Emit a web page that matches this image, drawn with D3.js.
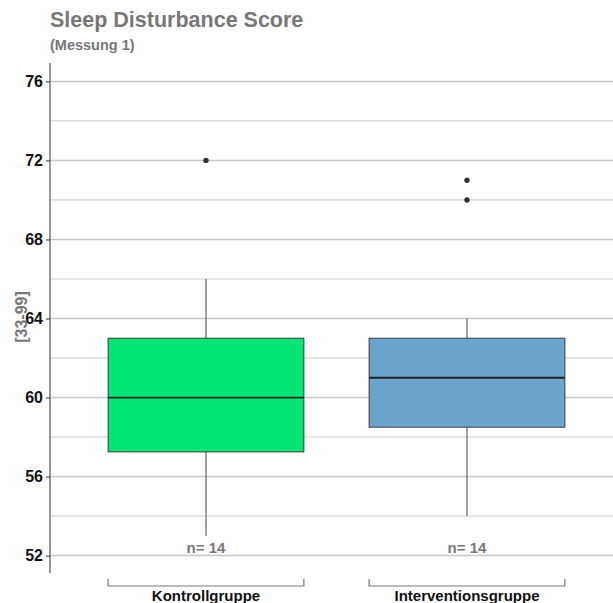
<!DOCTYPE html>
<html>
<head>
<meta charset="utf-8">
<script src="https://cdn.jsdelivr.net/npm/d3@7"></script>
<style>
  body { margin: 0; background: #fff; }
  text { font-family: "Liberation Sans", Arial, sans-serif; font-weight: bold; }
</style>
</head>
<body>
<div id="chart"></div>
<script>
// values
const groups = ["Kontrollgruppe", "Interventionsgruppe"];
const q1 = [57.25, 58.5];
const medians = [60, 61];
const q3 = [63, 63];
const whiskerLow = [53, 54];
const whiskerHigh = [66, 64];
const outliers = [[72], [71, 70]];
const counts = [14, 14];
const fills = ["#00e676", "#6ba5ce"];
const majorTicks = [52, 56, 60, 64, 68, 72, 76];
const minorTicks = [54, 58, 62, 66, 70, 74];

const width = 613, height = 603;

const svg = d3.select("#chart")
  .append("svg")
  .attr("width", width)
  .attr("height", height);

// scales
const y = d3.scaleLinear().domain([51.12, 76.93]).range([573, 63]);
const x = d3.scaleLinear().domain([0.4, 2.6]).range([49.4, 623.6]);
const boxW = x(1.75) - x(1);

// grid
svg.append("g").selectAll("line")
  .data(minorTicks)
  .enter().append("line")
  .attr("x1", 50).attr("x2", width)
  .attr("y1", d => y(d)).attr("y2", d => y(d))
  .attr("stroke", "#cccccc").attr("stroke-width", 1);

svg.append("g").selectAll("line")
  .data(majorTicks)
  .enter().append("line")
  .attr("x1", 50).attr("x2", width)
  .attr("y1", d => y(d)).attr("y2", d => y(d))
  .attr("stroke", "#c8c8c8").attr("stroke-width", 1.5);

// y axis
const yAxis = svg.append("g")
  .attr("transform", "translate(50,0)")
  .call(d3.axisLeft(y).tickValues(majorTicks).tickSize(4).tickPadding(3));
yAxis.select(".domain").attr("stroke", "#333").attr("d", "M0," + 63 + "V" + 573);
yAxis.selectAll(".tick line").attr("stroke", "#333");
yAxis.selectAll(".tick text")
  .attr("fill", "#111")
  .style("font-size", "16px")
  .style("font-family", "'Liberation Sans', Arial, sans-serif")
  .style("font-weight", "bold");

// boxes
const boxes = svg.append("g").selectAll("g")
  .data(groups)
  .enter().append("g");

boxes.append("line")
  .attr("x1", (d, i) => x(i + 1)).attr("x2", (d, i) => x(i + 1))
  .attr("y1", (d, i) => y(q3[i])).attr("y2", (d, i) => y(whiskerHigh[i]))
  .attr("stroke", "#444").attr("stroke-width", 1);

boxes.append("line")
  .attr("x1", (d, i) => x(i + 1)).attr("x2", (d, i) => x(i + 1))
  .attr("y1", (d, i) => y(q1[i])).attr("y2", (d, i) => y(whiskerLow[i]))
  .attr("stroke", "#444").attr("stroke-width", 1);

boxes.append("rect")
  .attr("x", (d, i) => x(i + 1) - boxW / 2)
  .attr("width", boxW)
  .attr("y", (d, i) => y(q3[i]))
  .attr("height", (d, i) => y(q1[i]) - y(q3[i]))
  .attr("fill", (d, i) => fills[i])
  .attr("stroke", "#3a3a3a").attr("stroke-width", 1);

boxes.append("line")
  .attr("x1", (d, i) => x(i + 1) - boxW / 2).attr("x2", (d, i) => x(i + 1) + boxW / 2)
  .attr("y1", (d, i) => y(medians[i])).attr("y2", (d, i) => y(medians[i]))
  .attr("stroke", "#222").attr("stroke-width", 1.8);

boxes.each(function(d, i) {
  d3.select(this).selectAll("circle")
    .data(outliers[i])
    .enter().append("circle")
    .attr("cx", x(i + 1))
    .attr("cy", v => y(v))
    .attr("r", 2.7)
    .attr("fill", "#333");
});

// n labels
boxes.append("text")
  .attr("x", (d, i) => x(i + 1))
  .attr("y", 553)
  .attr("text-anchor", "middle")
  .attr("fill", "#777")
  .style("font-size", "15px")
  .text((d, i) => "n= " + counts[i]);

// group brackets + labels
boxes.append("path")
  .attr("d", (d, i) => {
    const l = x(i + 1) - boxW / 2, r = x(i + 1) + boxW / 2;
    return "M" + l + ",579V586H" + r + "V579";
  })
  .attr("fill", "none")
  .attr("stroke", "#777").attr("stroke-width", 1.2);

boxes.append("text")
  .attr("x", (d, i) => x(i + 1))
  .attr("y", 601)
  .attr("text-anchor", "middle")
  .attr("fill", "#111")
  .style("font-size", "15px")
  .text(d => d);

// titles
svg.append("text")
  .attr("x", 50).attr("y", 27)
  .attr("fill", "#777")
  .style("font-size", "21.5px")
  .text("Sleep Disturbance Score");

svg.append("text")
  .attr("x", 50).attr("y", 50)
  .attr("fill", "#777")
  .style("font-size", "14.5px")
  .text("(Messung 1)");

svg.append("text")
  .attr("transform", "translate(27,317) rotate(-90)")
  .attr("text-anchor", "middle")
  .attr("fill", "#777")
  .style("font-size", "16px")
  .text("[33-99]");
</script>
</body>
</html>
